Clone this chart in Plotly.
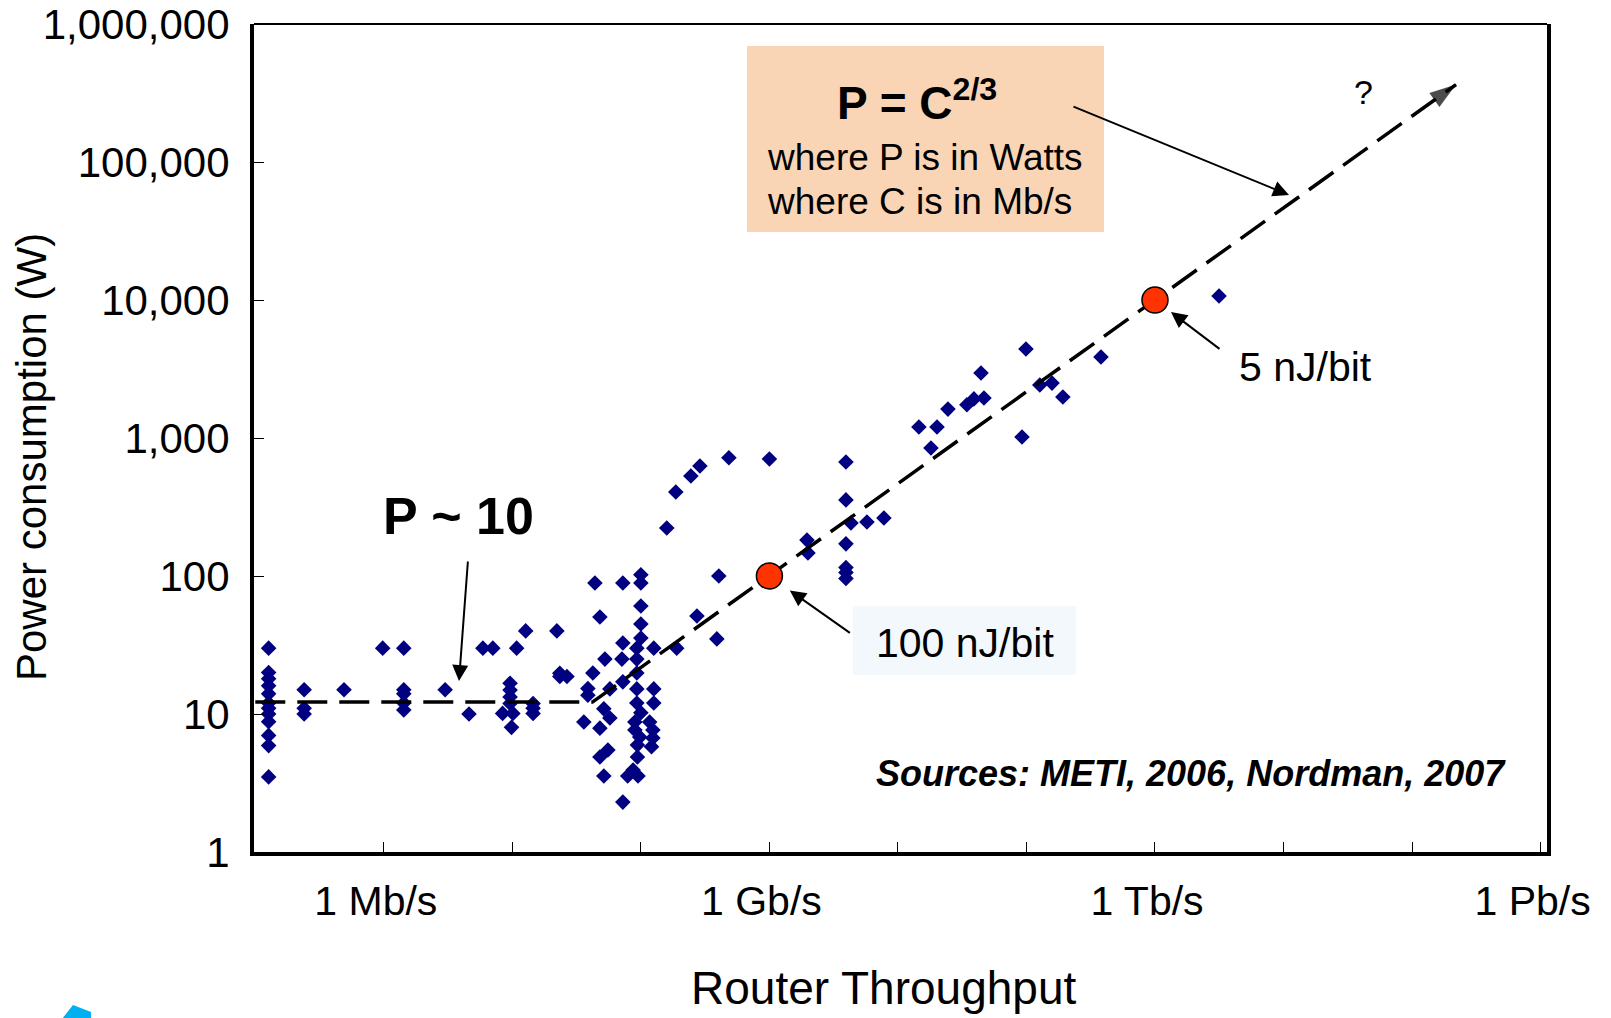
import numpy as np
import plotly.graph_objects as go

# ---------------- data ----------------
# router throughput in Mb/s
router_C = [
    0.127, 0.127, 0.127, 0.127, 0.127, 0.127, 0.127, 0.127, 0.127, 0.127, 0.127, 0.127,
    0.24, 0.24, 0.24, 0.49, 0.98,
    1.43, 1.43, 1.43, 1.43, 1.43,
    3.0, 4.6, 5.9, 7.05, 10.8, 12.7, 22.2,
    9.6, 9.6, 9.6, 9.6, 8.4, 10.1, 9.85,
    14.5, 14.5, 14.5, 23.4, 23.4, 26.6,
    43.9, 72.4, 100, 100, 100, 48, 273, 100, 100, 72.4, 93, 126, 190,
    52.5, 71.2, 93, 42.3, 93, 72.4, 38.7, 57.4, 93, 126, 38.7, 93, 126,
    51.5, 100, 57.4, 36, 89.8, 117, 48, 89.8, 124, 98, 124, 94, 121,
    55.4, 48, 94, 87, 51.5, 79, 95, 72.4,
    484, 1000, 3940, 288, 245, 187, 3940, 4310, 5740, 7780, 159, 1960,
    3940, 1995, 3940, 3940, 3940, 404, 390,
    99100, 380000, 44300, 158000, 127000, 192000, 46700, 39000, 34400,
    24500, 14560, 20140, 18070, 92300, 3150000,
]
# router power consumption in W
router_P = [
    30, 20, 18, 16, 14, 12, 11, 10, 8.8, 7, 5.9, 3.5,
    15, 11, 10, 15, 30,
    30, 15, 14, 12, 10.7,
    15, 10, 30, 30, 30, 40, 40,
    16.7, 14.9, 13.3, 11.9, 10.1, 10.1, 8,
    11.9, 11, 10.1, 19.7, 18.7, 18.7,
    89, 89, 102, 89, 60.6, 50.4, 51.3, 44.9, 35.5, 32.7, 30, 30, 30,
    25, 25, 25, 19.8, 19.8, 17.1, 15.3, 15.2, 15.2, 15.2, 13.7, 12, 12,
    10.9, 10.2, 9.35, 8.75, 8.75, 8.75, 7.9, 7.66, 7.66, 6.8, 6.7, 5.96, 5.8,
    5.48, 4.88, 4.88, 3.93, 3.55, 3.55, 3.55, 2.3,
    720, 705, 670, 627, 530, 406, 356, 242, 246, 263, 223, 182,
    171, 147, 115, 106, 96, 100, 35,
    4410, 3860, 2960, 2500, 2420, 1980, 1950, 1920, 1740,
    1620, 1200, 1200, 847, 1017, 10700,
]

# highlighted reference points (100 nJ/bit and 5 nJ/bit)
ref_C = [1e3, 1e6]
ref_P = [100, 1e4]

# trend line: P ~ 10 flat, then P = C^(2/3)
trend_C = [0.1, 42, 2.2e8]
trend_P = [12.2, 12.2, 3.64e5]

x_tickvals = [1, 1e3, 1e6, 1e9]
x_ticktext = ["1 Mb/s", "1 Gb/s", "1 Tb/s", "1 Pb/s"]
x_minorvals = [10, 100, 1e4, 1e5, 1e7, 1e8]
y_tickvals = [1, 10, 100, 1000, 1e4, 1e5, 1e6]
y_ticktext = ["1", "10", "100", "1,000", "10,000", "100,000", "1,000,000"]

# ---------------- layout geometry ----------------
W, H = 1611, 1018
PL, PR, PT, PB = 254, 1547, 24, 852
FONT = "Liberation Sans, Arial, sans-serif"


def px(x):
    return (x - PL) / (PR - PL)


def py(y):
    return (PB - y) / (PB - PT)


fig = go.Figure()

fig.add_trace(go.Scatter(
    x=router_C, y=router_P, mode="markers",
    marker=dict(symbol="diamond", size=12, color="#000080", line=dict(width=0)),
    hoverinfo="skip", showlegend=False,
))

fig.add_trace(go.Scatter(
    x=trend_C, y=trend_P, mode="lines",
    line=dict(color="black", width=3.5, dash="30px,12px"),
    hoverinfo="skip", showlegend=False,
))

fig.add_trace(go.Scatter(
    x=trend_C[-2:], y=trend_P[-2:], mode="markers",
    marker=dict(symbol="arrow", angleref="previous", size=[0, 28], color="black",
                line=dict(width=0)),
    hoverinfo="skip", showlegend=False,
))

fig.add_trace(go.Scatter(
    x=ref_C, y=ref_P, mode="markers",
    marker=dict(symbol="circle", size=26, color="#FF3300", line=dict(width=1.5, color="black")),
    hoverinfo="skip", showlegend=False,
))

shapes = [
    # formula box
    dict(type="rect", xref="paper", yref="paper", x0=px(747), x1=px(1104), y0=py(232), y1=py(46),
         fillcolor="#FAD5B5", line=dict(width=0), layer="below"),
    # 100 nJ/bit box
    dict(type="rect", xref="paper", yref="paper", x0=px(853), x1=px(1076), y0=py(675), y1=py(606),
         fillcolor="#F3F8FD", line=dict(width=0), layer="below"),
    # top border (thin)
    dict(type="line", xref="paper", yref="paper", x0=0, x1=1, y0=1, y1=1,
         line=dict(color="black", width=2)),
    # cyan logo fragment in bottom-left corner
    dict(type="path", xref="paper", yref="paper",
         path="M {} {} L {} {} L {} {} L {} {} Z".format(px(62), py(1019), px(73), py(1005),
                                                         px(91), py(1012), px(91), py(1019)),
         fillcolor="#00B0F0", line=dict(width=0)),
]

ann = []


def text(x, y, s, size, bold=False, italic=False, xanchor="center"):
    if bold:
        s = "<b>" + s + "</b>"
    if italic:
        s = "<i>" + s + "</i>"
    ann.append(dict(x=px(x), y=py(y), xref="paper", yref="paper", text=s, showarrow=False,
                    xanchor=xanchor, yanchor="middle", font=dict(family=FONT, size=size, color="black")))


text(458, 516, "P ~ 10", 52, bold=True)
text(917, 100, "P = C<sup>2/3</sup>", 46, bold=True)
text(765, 157, "where P is in Watts", 37, xanchor="left")
text(765, 202, "where C is in Mb/s", 37, xanchor="left")
text(1363, 92, "?", 34)
text(1305, 367, "5 nJ/bit", 41)
text(965, 643, "100 nJ/bit", 41)
text(1508, 773, "Sources: METI, 2006, Nordman, 2007", 36, bold=True, italic=True, xanchor="right")
text(884, 988, "Router Throughput", 46)
ann.append(dict(x=px(31), y=py(457), xref="paper", yref="paper", text="Power consumption (W)",
                showarrow=False, textangle=-90, xanchor="center", yanchor="middle",
                font=dict(family=FONT, size=42, color="black")))


def arrow_px(hx, hy, tx, ty):
    ann.append(dict(x=px(hx), y=py(hy), xref="paper", yref="paper", text="", showarrow=True,
                    ax=tx - hx, ay=ty - hy, arrowhead=2, arrowsize=1.6, arrowwidth=2,
                    arrowcolor="black"))


arrow_px(1289, 195, 1072, 106)
arrow_px(459, 681, 468, 560)

# callout arrows pointing at the highlighted reference points
for (cx, cy), (ax, ay, so) in zip(zip(ref_C, ref_P), [(82, 58, 25), (66, 50, 20)]):
    ann.append(dict(x=np.log10(cx), y=np.log10(cy), xref="x", yref="y", text="", showarrow=True,
                    ax=ax, ay=ay, standoff=so, arrowhead=2, arrowsize=1.6, arrowwidth=2,
                    arrowcolor="black"))

fig.update_layout(
    width=W, height=H,
    margin=dict(l=PL, r=W - PR, t=PT, b=H - PB, pad=0, autoexpand=False),
    paper_bgcolor="white", plot_bgcolor="white",
    font=dict(family=FONT, color="black"),
    showlegend=False,
    shapes=shapes,
    annotations=ann,
    hovermode=False,
)

fig.update_xaxes(
    type="log", range=[-1.01, 9.05], showgrid=False, zeroline=False, automargin=False,
    showline=True, linewidth=4, linecolor="black", mirror=False,
    ticks="inside", ticklen=10, tickwidth=1, tickcolor="black",
    tickvals=x_tickvals, ticktext=x_ticktext,
    minor=dict(tickvals=x_minorvals, ticks="inside", ticklen=10, tickwidth=1,
               tickcolor="black", showgrid=False),
    tickfont=dict(family=FONT, size=41, color="black"),
    ticklabelstandoff=10, ticklabelshift=-8,
)
fig.update_yaxes(
    type="log", range=[0, 6], showgrid=False, zeroline=False, automargin=False,
    showline=True, linewidth=4, linecolor="black", mirror=True,
    ticks="inside", ticklen=10, tickwidth=1, tickcolor="black",
    tickvals=y_tickvals, ticktext=y_ticktext,
    tickfont=dict(family=FONT, size=42, color="black"),
    ticklabelstandoff=12,
)

fig.write_html("out.html")
